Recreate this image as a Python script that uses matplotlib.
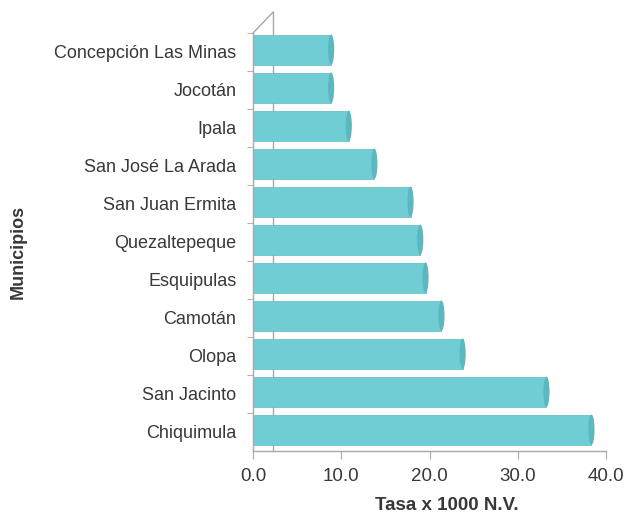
import matplotlib
matplotlib.use("Agg")
import matplotlib.pyplot as plt
from matplotlib.patches import Ellipse

plt.rcParams["font.family"] = ["Liberation Sans", "DejaVu Sans"]

municipios = ["Concepción Las Minas", "Jocotán", "Ipala", "San José La Arada",
              "San Juan Ermita", "Quezaltepeque", "Esquipulas", "Camotán",
              "Olopa", "San Jacinto", "Chiquimula"]
tasa = [8.7, 8.7, 10.7, 13.6, 17.7, 18.8, 19.4, 21.2, 23.6, 33.1, 38.2]
xticks = [0, 10, 20, 30, 40]

fig = plt.figure(figsize=(6.37, 5.18), dpi=100)
ax = fig.add_axes([253 / 637, 67 / 518, 353 / 637, 418 / 518])

n = len(municipios)
ypos = [n - 1 - i for i in range(n)]
bar_h = 0.80
face = "#70CDD4"
edge = "#5ABCC3"
txt = "#383838"

# back wall line (3D look), drawn behind bars
gray = "#A8A8A8"
ax.plot([0.057, 0.057], [0, 1.05], transform=ax.transAxes, color=gray,
        lw=1.0, clip_on=False, zorder=1)
ax.plot([0, 0.057], [1, 1.05], transform=ax.transAxes, color=gray,
        lw=1.0, clip_on=False, zorder=1)

for y, v in zip(ypos, tasa):
    yc = y + 0.06
    ax.barh(yc, v, height=bar_h, left=0.15, color=face, edgecolor=edge,
            linewidth=0.5, zorder=2)
    ax.add_patch(Ellipse((v + 0.15, yc), 0.7, bar_h, facecolor="#5AB9C0",
                         edgecolor="none", zorder=3))

ax.set_xlim(0, 40)
ax.set_ylim(-0.5, n - 0.5)

for s in ["top", "right"]:
    ax.spines[s].set_visible(False)
for s in ["left", "bottom"]:
    ax.spines[s].set_color(gray)
    ax.spines[s].set_linewidth(1.0)

ax.set_xticks(xticks)
ax.set_xticklabels([f"{t:.1f}" for t in xticks], fontsize=13.5, color=txt)
ax.tick_params(axis="x", length=6, color=gray, pad=6)

ax.set_yticks(ypos)
ax.set_yticklabels(municipios, fontsize=13, color=txt)
ax.set_yticks([y + 0.5 for y in range(n)], minor=True)
ax.tick_params(axis="y", which="major", length=0, pad=12)
ax.tick_params(axis="y", which="minor", length=4, color=gray)

ax.set_xlabel("Tasa x 1000 N.V.", fontsize=13.5, fontweight="bold",
              color=txt, va="center")
ax.xaxis.set_label_coords(0.55, -0.13)
fig.text(18 / 637, 1 - 252 / 518, "Municipios", rotation=90, fontsize=13,
         fontweight="bold", color=txt, ha="center", va="center")

fig.savefig("out.png", dpi=100)
